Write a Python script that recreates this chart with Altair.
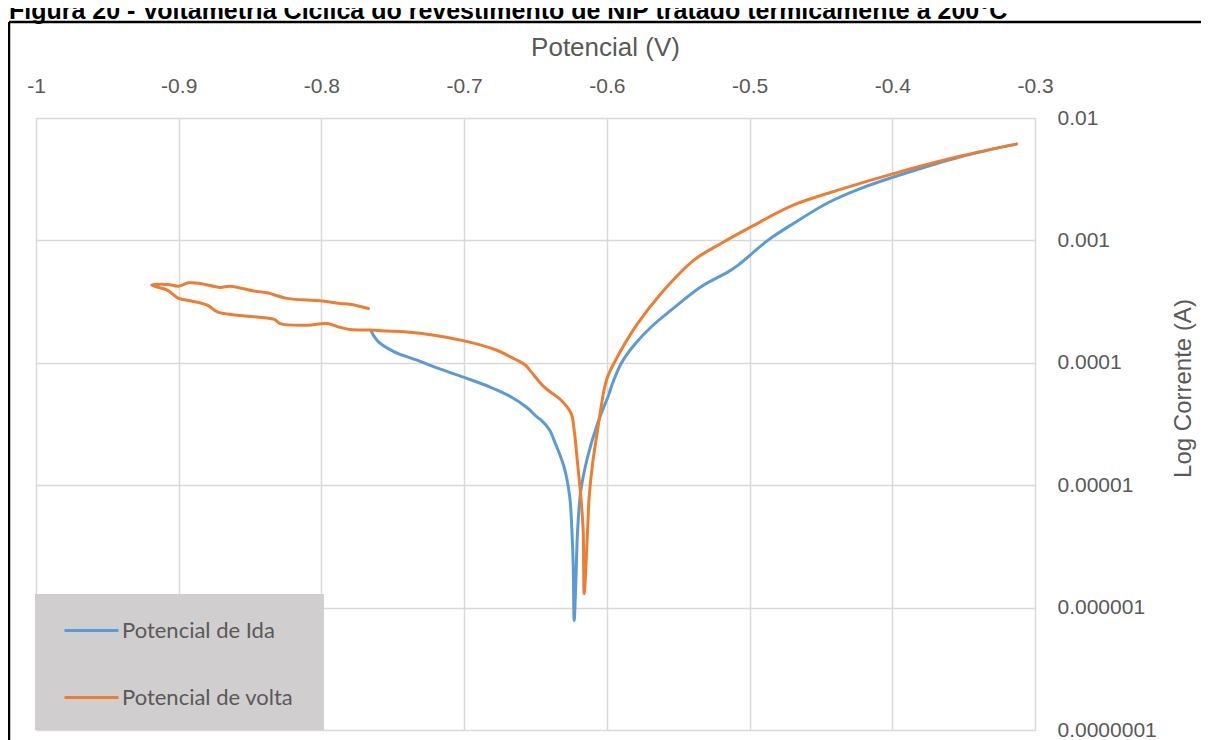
import altair as alt
import pandas as pd

# ---- data ----
potencial_ida = [-0.765, -0.760, -0.749, -0.733, -0.721, -0.700, -0.681, -0.667, -0.656,
                 -0.649, -0.646, -0.640, -0.637, -0.630, -0.626, -0.6245, -0.6236, -0.6229,
                 -0.6217, -0.6205, -0.6182, -0.6135, -0.6065, -0.5984, -0.597, -0.590, -0.581,
                 -0.569, -0.555, -0.534, -0.515, -0.508, -0.487, -0.469, -0.445, -0.422,
                 -0.3985, -0.352, -0.313]
corrente_ida = [1.79e-4, 1.48e-4, 1.23e-4, 1.05e-4, 9.25e-5, 7.59e-5, 6.28e-5, 5.26e-5, 4.31e-5,
                3.61e-5, 3.40e-5, 2.81e-5, 2.33e-5, 1.41e-5, 8.0e-6, 4.28e-6, 2.29e-6, 7.85e-7,
                1.67e-6, 4.28e-6, 9.08e-6, 1.70e-5, 3.19e-5, 5.6e-5, 6.31e-5, 9.86e-5, 1.39e-4,
                1.96e-4, 2.69e-4, 4.18e-4, 5.53e-4, 6.28e-4, 1.005e-3, 1.38e-3, 2.03e-3, 2.66e-3,
                3.31e-3, 4.83e-3, 6.12e-3]

potencial_volta = [-0.313, -0.352, -0.3985, -0.434, -0.469, -0.499, -0.520, -0.539, -0.562,
                   -0.5785, -0.590, -0.5995, -0.602, -0.6065, -0.610, -0.6124, -0.6135, -0.6159,
                   -0.6166, -0.6182, -0.6205, -0.6229, -0.625, -0.632, -0.644, -0.653, -0.657,
                   -0.665, -0.679, -0.700, -0.721, -0.742, -0.754, -0.766, -0.780, -0.787,
                   -0.796, -0.810, -0.829, -0.833, -0.859, -0.873, -0.880, -0.892, -0.900,
                   -0.908, -0.919, -0.908, -0.900, -0.893, -0.885, -0.871, -0.864, -0.847,
                   -0.838, -0.824, -0.801, -0.787, -0.780, -0.767]
corrente_volta = [6.12e-3, 4.89e-3, 3.53e-3, 2.66e-3, 1.95e-3, 1.29e-3, 9.44e-4, 6.90e-4, 3.69e-4,
                  2.09e-4, 1.27e-4, 7.67e-5, 5.97e-5, 2.81e-5, 1.50e-5, 8.0e-6, 4.28e-6, 1.30e-6,
                  4.28e-6, 8.0e-6, 1.50e-5, 2.81e-5, 3.85e-5, 4.94e-5, 6.35e-5, 8.43e-5, 9.55e-5,
                  1.08e-4, 1.29e-4, 1.51e-4, 1.68e-4, 1.79e-4, 1.82e-4, 1.85e-4, 1.87e-4, 1.95e-4,
                  2.09e-4, 2.03e-4, 2.09e-4, 2.26e-4, 2.45e-4, 2.61e-4, 2.96e-4, 3.21e-4, 3.36e-4,
                  3.93e-4, 4.31e-4, 4.37e-4, 4.23e-4, 4.50e-4, 4.45e-4, 4.13e-4, 4.23e-4, 3.85e-4,
                  3.73e-4, 3.36e-4, 3.21e-4, 3.05e-4, 3.01e-4, 2.78e-4]

series_names = ["Potencial de Ida", "Potencial de volta"]
series_colors = ["#5B9BD5", "#ED7D31"]
x_ticks = [-1, -0.9, -0.8, -0.7, -0.6, -0.5, -0.4, -0.3]
y_ticks = [1e-7, 1e-6, 1e-5, 1e-4, 1e-3, 1e-2]
figure_title = "Figura 20 - Voltametria Cíclica do revestimento de NiP tratado termicamente a 200°C"
x_title = "Potencial (V)"
y_title = "Log Corrente (A)"

rows = []
for i, (v, c) in enumerate(zip(potencial_ida, corrente_ida)):
    rows.append({"serie": series_names[0], "ordem": i, "V": v, "I": c})
for i, (v, c) in enumerate(zip(potencial_volta, corrente_volta)):
    rows.append({"serie": series_names[1], "ordem": i, "V": v, "I": c})
df = pd.DataFrame(rows)

W, H = 999, 612
LABEL_COLOR = "#595959"
GRID = "#d9d9d9"

x_enc = alt.X(
    "V:Q",
    scale=alt.Scale(domain=[-1, -0.3], nice=False, zero=False),
    axis=alt.Axis(
        orient="top", values=x_ticks, title=x_title,
        labelExpr="'-' + format(-datum.value, '~g')",
        labelFlush=False, labelOverlap=False, labelBound=False,
        labelFont="Liberation Sans", labelFontSize=21, labelColor=LABEL_COLOR,
        labelPadding=22, tickSize=0, ticks=False, domain=False,
        grid=True, gridColor=GRID, gridWidth=1.5,
        titleFont="Liberation Sans", titleFontSize=26, titleFontWeight="normal",
        titleColor=LABEL_COLOR, titleX=569, titleY=-71, titleAlign="center",
        titleBaseline="middle", titleAnchor="middle",
    ),
)
y_enc = alt.Y(
    "I:Q",
    scale=alt.Scale(type="log", domain=[1e-7, 1e-2], nice=False),
    axis=alt.Axis(
        orient="right", values=y_ticks, format=".7~f", title=y_title,
        labelFlush=False, labelOverlap=False, labelBound=False,
        labelFont="Liberation Sans", labelFontSize=21, labelColor=LABEL_COLOR,
        labelAlign="left", labelBaseline="middle",
        labelPadding=22, tickSize=0, ticks=False, domain=False,
        grid=True, gridColor=GRID, gridWidth=1.5,
        titleFont="Liberation Sans", titleFontSize=24, titleFontWeight="normal",
        titleColor=LABEL_COLOR, titleAngle=270, titleX=148, titleY=270,
        titleAlign="center", titleBaseline="middle",
    ),
)

lines = alt.Chart(df).mark_line(
    strokeWidth=3, strokeJoin="round", strokeCap="round", interpolate="catmull-rom"
).encode(
    x=x_enc,
    y=y_enc,
    color=alt.Color(
        "serie:N",
        scale=alt.Scale(domain=series_names, range=series_colors),
        legend=alt.Legend(
            title=None, orient="none", legendX=27, legendY=484,
            symbolType="stroke", symbolSize=2916, symbolStrokeWidth=3,
            labelFont="Lato", labelFontSize=22, labelColor=LABEL_COLOR,
            labelLimit=400, labelOffset=2, rowPadding=27, padding=0,
            direction="vertical",
        ),
    ),
    order="ordem:Q",
)

one = pd.DataFrame({"k": [0]})

legend_box = alt.Chart(one).mark_rect(fill="#d0cece").encode(
    x=alt.value(-1), x2=alt.value(288), y=alt.value(476), y2=alt.value(612)
)

frame_top = alt.Chart(one).mark_rule(color="black", strokeWidth=2.5).encode(
    x=alt.value(-27), x2=alt.value(1175), y=alt.value(-96)
)
frame_left = alt.Chart(one).mark_rule(color="black", strokeWidth=2.5).encode(
    x=alt.value(-27), y=alt.value(-96), y2=alt.value(640)
)
title_text = alt.Chart(one).mark_text(
    text=figure_title, font="Liberation Sans", fontWeight="bold", fontSize=25,
    align="left", baseline="alphabetic", color="black"
).encode(x=alt.value(-27), y=alt.value(-99))

chart = alt.layer(legend_box, lines, frame_top, frame_left, title_text).properties(
    width=W, height=H,
    padding={"left": 28, "top": 110, "right": 166, "bottom": 10},
    autosize=alt.AutoSizeParams(type="none"),
).configure_view(stroke=None).configure(background="white")

chart.save("out.html", embed_options={"renderer": "svg", "actions": False})
